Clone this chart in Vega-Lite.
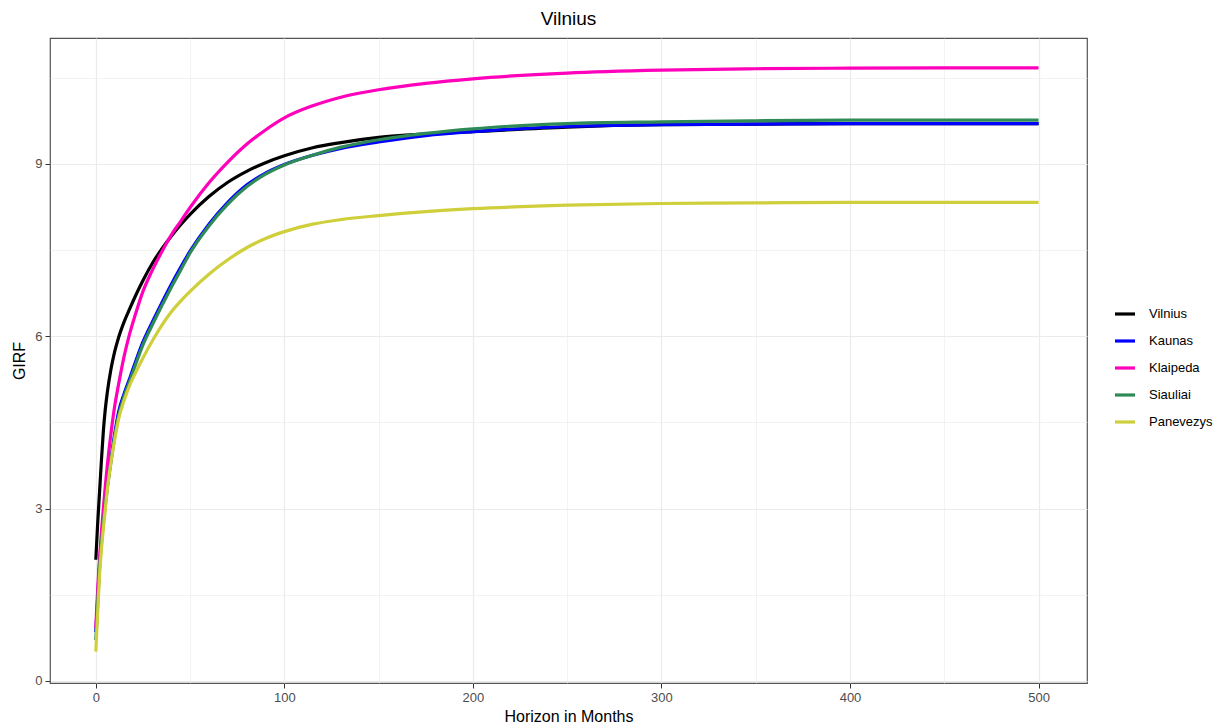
{
  "$schema": "https://vega.github.io/schema/vega-lite/v6.json",
  "autosize": "none",
  "width": 1037,
  "height": 645,
  "padding": {"left": 50, "top": 38, "right": 132, "bottom": 42},
  "background": "white",
  "config": {
    "font": "Liberation Sans",
    "view": {"stroke": "#555555", "strokeWidth": 1.2},
    "axis": {"domain": false}
  },
  "title": {"text": "Vilnius", "fontSize": 19, "fontWeight": "normal", "color": "#000000", "anchor": "middle", "offset": 9, "font": "Liberation Sans"},
  "data": {
    "values": [
      {"h": 0, "Vilnius": 2.11, "Kaunas": 0.85, "Klaipeda": 0.92, "Siauliai": 0.71, "Panevezys": 0.51},
      {"h": 1, "Vilnius": 2.75, "Kaunas": 1.45, "Klaipeda": 1.6, "Siauliai": 1.35, "Panevezys": 1.2},
      {"h": 2, "Vilnius": 3.3, "Kaunas": 2.05, "Klaipeda": 2.15, "Siauliai": 1.98, "Panevezys": 1.85},
      {"h": 3, "Vilnius": 3.85, "Kaunas": 2.45, "Klaipeda": 2.6, "Siauliai": 2.4, "Panevezys": 2.3},
      {"h": 4, "Vilnius": 4.35, "Kaunas": 2.8, "Klaipeda": 3.0, "Siauliai": 2.75, "Panevezys": 2.65},
      {"h": 5, "Vilnius": 4.72, "Kaunas": 3.1, "Klaipeda": 3.38, "Siauliai": 3.05, "Panevezys": 2.98},
      {"h": 6, "Vilnius": 5.0, "Kaunas": 3.38, "Klaipeda": 3.72, "Siauliai": 3.33, "Panevezys": 3.3},
      {"h": 8, "Vilnius": 5.42, "Kaunas": 3.86, "Klaipeda": 4.3, "Siauliai": 3.8, "Panevezys": 3.8},
      {"h": 10, "Vilnius": 5.73, "Kaunas": 4.3, "Klaipeda": 4.78, "Siauliai": 4.25, "Panevezys": 4.2},
      {"h": 12, "Vilnius": 5.97, "Kaunas": 4.67, "Klaipeda": 5.15, "Siauliai": 4.6, "Panevezys": 4.55},
      {"h": 15, "Vilnius": 6.25, "Kaunas": 5.0, "Klaipeda": 5.65, "Siauliai": 4.95, "Panevezys": 4.88},
      {"h": 18, "Vilnius": 6.48, "Kaunas": 5.27, "Klaipeda": 6.05, "Siauliai": 5.22, "Panevezys": 5.15},
      {"h": 21, "Vilnius": 6.7, "Kaunas": 5.55, "Klaipeda": 6.38, "Siauliai": 5.5, "Panevezys": 5.36},
      {"h": 25, "Vilnius": 6.97, "Kaunas": 5.9, "Klaipeda": 6.78, "Siauliai": 5.85, "Panevezys": 5.62},
      {"h": 30, "Vilnius": 7.27, "Kaunas": 6.25, "Klaipeda": 7.15, "Siauliai": 6.2, "Panevezys": 5.92},
      {"h": 35, "Vilnius": 7.52, "Kaunas": 6.58, "Klaipeda": 7.47, "Siauliai": 6.53, "Panevezys": 6.19},
      {"h": 40, "Vilnius": 7.74, "Kaunas": 6.9, "Klaipeda": 7.76, "Siauliai": 6.85, "Panevezys": 6.42},
      {"h": 45, "Vilnius": 7.94, "Kaunas": 7.2, "Klaipeda": 8.0, "Siauliai": 7.15, "Panevezys": 6.61},
      {"h": 50, "Vilnius": 8.12, "Kaunas": 7.48, "Klaipeda": 8.24, "Siauliai": 7.45, "Panevezys": 6.78},
      {"h": 60, "Vilnius": 8.43, "Kaunas": 7.95, "Klaipeda": 8.67, "Siauliai": 7.92, "Panevezys": 7.08},
      {"h": 70, "Vilnius": 8.68, "Kaunas": 8.33, "Klaipeda": 9.03, "Siauliai": 8.3, "Panevezys": 7.33},
      {"h": 80, "Vilnius": 8.87, "Kaunas": 8.63, "Klaipeda": 9.34, "Siauliai": 8.6, "Panevezys": 7.54},
      {"h": 90, "Vilnius": 9.02, "Kaunas": 8.84, "Klaipeda": 9.59, "Siauliai": 8.82, "Panevezys": 7.7},
      {"h": 100, "Vilnius": 9.14, "Kaunas": 8.99, "Klaipeda": 9.8, "Siauliai": 8.98, "Panevezys": 7.82},
      {"h": 115, "Vilnius": 9.28, "Kaunas": 9.15, "Klaipeda": 10.01, "Siauliai": 9.15, "Panevezys": 7.95},
      {"h": 130, "Vilnius": 9.37, "Kaunas": 9.27, "Klaipeda": 10.16, "Siauliai": 9.29, "Panevezys": 8.03},
      {"h": 150, "Vilnius": 9.46, "Kaunas": 9.38, "Klaipeda": 10.29, "Siauliai": 9.42, "Panevezys": 8.1},
      {"h": 175, "Vilnius": 9.52, "Kaunas": 9.49, "Klaipeda": 10.4, "Siauliai": 9.53, "Panevezys": 8.17},
      {"h": 200, "Vilnius": 9.56, "Kaunas": 9.56, "Klaipeda": 10.48, "Siauliai": 9.61, "Panevezys": 8.22},
      {"h": 250, "Vilnius": 9.64, "Kaunas": 9.65, "Klaipeda": 10.58, "Siauliai": 9.7, "Panevezys": 8.28},
      {"h": 300, "Vilnius": 9.68, "Kaunas": 9.68, "Klaipeda": 10.63, "Siauliai": 9.73, "Panevezys": 8.31},
      {"h": 350, "Vilnius": 9.69, "Kaunas": 9.69, "Klaipeda": 10.655, "Siauliai": 9.75, "Panevezys": 8.32},
      {"h": 400, "Vilnius": 9.7, "Kaunas": 9.7, "Klaipeda": 10.665, "Siauliai": 9.76, "Panevezys": 8.33},
      {"h": 450, "Vilnius": 9.7, "Kaunas": 9.7, "Klaipeda": 10.67, "Siauliai": 9.76, "Panevezys": 8.33},
      {"h": 500, "Vilnius": 9.7, "Kaunas": 9.7, "Klaipeda": 10.67, "Siauliai": 9.76, "Panevezys": 8.33}
    ]
  },
  "transform": [
    {"fold": ["Vilnius", "Kaunas", "Klaipeda", "Siauliai", "Panevezys"], "as": ["city", "girf"]}
  ],
  "mark": {"type": "line", "strokeWidth": 3.2, "interpolate": "monotone"},
  "encoding": {
    "x": {
      "field": "h", "type": "quantitative",
      "scale": {"domain": [-24.3, 525.7], "nice": false, "zero": false},
      "axis": {
        "title": "Horizon in Months",
        "titleFontSize": 16, "titleFontWeight": "normal", "titleColor": "#000000", "titlePadding": 4,
        "values": [0, 50, 100, 150, 200, 250, 300, 350, 400, 450, 500],
        "labelExpr": "datum.value % 100 === 0 ? datum.label : ''",
        "labelFontSize": 13, "labelColor": "#4d4d4d", "labelPadding": 3,
        "tickSize": 5, "tickColor": "#333333",
        "tickOpacity": {"condition": {"test": "datum.value % 100 !== 0", "value": 0}, "value": 1},
        "gridColor": "#EBEBEB",
        "gridWidth": {"condition": {"test": "datum.value % 100 !== 0", "value": 0.6}, "value": 1.2}
      }
    },
    "y": {
      "field": "girf", "type": "quantitative",
      "scale": {"domain": [-0.035, 11.19], "nice": false, "zero": false},
      "axis": {
        "title": "GIRF",
        "titleFontSize": 16, "titleFontWeight": "normal", "titleColor": "#000000", "titlePadding": 7,
        "values": [0, 1.5, 3, 4.5, 6, 7.5, 9, 10.5],
        "labelExpr": "datum.value % 3 === 0 ? datum.label : ''",
        "labelFontSize": 13, "labelColor": "#4d4d4d", "labelPadding": 3,
        "tickSize": 5, "tickColor": "#333333",
        "tickOpacity": {"condition": {"test": "datum.value % 3 !== 0", "value": 0}, "value": 1},
        "gridColor": "#EBEBEB",
        "gridWidth": {"condition": {"test": "datum.value % 3 !== 0", "value": 0.6}, "value": 1.2}
      }
    },
    "color": {
      "field": "city", "type": "nominal",
      "scale": {
        "domain": ["Vilnius", "Kaunas", "Klaipeda", "Siauliai", "Panevezys"],
        "range": ["#000000", "#0000FF", "#FF00BB", "#2E8B57", "#CFCF3C"]
      },
      "legend": {
        "title": null,
        "orient": "none",
        "legendX": 1063,
        "legendY": 264,
        "symbolType": "stroke",
        "symbolStrokeWidth": 3.2,
        "symbolSize": 400,
        "labelFontSize": 13,
        "labelColor": "#000000",
        "labelOffset": 12,
        "rowPadding": 8
      }
    }
  }
}
